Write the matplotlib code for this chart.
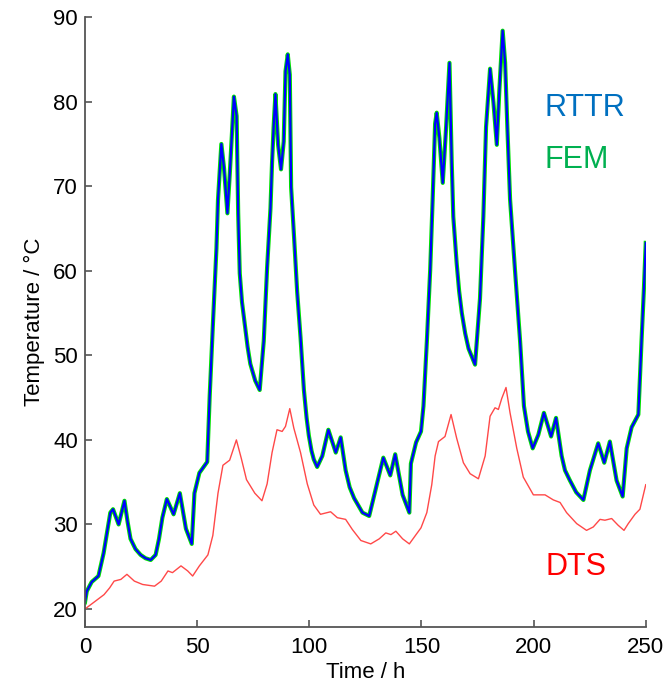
import matplotlib
matplotlib.use("Agg")
import matplotlib.pyplot as plt

plt.rcParams['font.family'] = ['Liberation Sans', 'DejaVu Sans']

# RTTR model, time in h, temperature in degC
rttr_time = [0, 0.8, 3, 6, 8.3, 11.3, 12.5, 15, 17.6, 19, 20.3, 22.5, 24.8, 27, 29.3, 31.5,
             33, 34.5, 36.5, 39.5, 42.3, 45, 47.6, 48.8, 51, 54.5, 55.6, 57, 58.6, 59.3,
             60.8, 62, 63.5, 64.6, 66.4, 67.6, 68.3, 69, 70, 71.3, 72.5, 73.7, 75.9, 77.9,
             79.7, 81.2, 82.7, 83.4, 84.1, 84.9, 86.1, 87.4, 88.6, 89.4, 90.4, 91.3, 91.9,
             93.1, 94.6, 96.1, 97.6, 98.8, 99.8, 101, 102, 103.5, 105.8, 108.5, 111.8, 114,
             116.2, 118, 120, 123.7, 126.7, 129.7, 133, 136.1, 138.3, 141.6, 144.6, 145.3,
             147.6, 149.8, 150.9, 152.4, 153.9, 155, 156.1, 156.8, 158, 159.5, 161, 162.5,
             163.5, 164.2, 165.7, 166.8, 168, 169.5, 171, 173.9, 176.1, 177.6, 178.8, 180.6,
             182.1, 183.6, 184.7, 186.2, 187.3, 188.3, 189.5, 191.7, 194, 195.7, 197.5,
             199.6, 202.1, 204.6, 207.8, 210, 212.5, 214, 216.2, 219, 222.2, 225.1, 228.8,
             231.5, 234, 237, 239.7, 241.5, 243.7, 246.7, 248.1, 249.2, 250]
rttr_temp = [20.8, 22.1, 23.2, 23.9, 26.6, 31.4, 31.8, 30.0, 32.8, 30.3, 28.3, 27.1, 26.4,
             26.0, 25.8, 26.4, 28.3, 30.8, 33.0, 31.2, 33.7, 29.5, 27.7, 33.7, 36.1, 37.4,
             45.2, 53.5, 62.6, 68.4, 75.0, 72.1, 66.8, 71.7, 80.6, 78.3, 66.8, 59.7, 56.3,
             53.5, 51.0, 49.0, 47.0, 45.9, 51.7, 60.4, 67.4, 72.8, 77.0, 80.9, 74.9, 72.0,
             75.3, 83.6, 85.6, 83.2, 69.9, 64.5, 57.5, 52.1, 45.9, 42.6, 40.5, 38.7, 37.7,
             36.8, 38.1, 41.2, 38.5, 40.3, 36.4, 34.4, 33.1, 31.4, 31.0, 34.3, 37.9, 35.8,
             38.3, 33.5, 31.4, 37.2, 39.7, 41.0, 44.0, 51.6, 60.1, 68.5, 77.4, 78.7, 75.7,
             70.4, 77.0, 84.6, 72.8, 66.4, 60.9, 57.6, 55.0, 52.6, 50.8, 48.9, 56.7, 66.4,
             77.0, 83.9, 79.9, 74.9, 81.2, 88.4, 84.6, 77.0, 68.5, 60.1, 51.6, 44.0, 41.0,
             39.0, 40.6, 43.2, 40.4, 42.6, 38.1, 36.4, 35.2, 33.8, 32.9, 36.4, 39.6, 37.3,
             39.8, 35.2, 33.3, 39.0, 41.5, 43.0, 51.6, 58.0, 63.3]

# FEM result lies on top of the RTTR curve in the picture
fem_time = rttr_time
fem_temp = rttr_temp

# DTS measurement
dts_time = [0, 4, 8.5, 11, 13, 16, 18.7, 22, 25.7, 31, 34, 37, 39, 42.8, 45.8, 48, 51,
            54.8, 57, 59.3, 61.5, 64.5, 67.5, 69.7, 72, 75.7, 78.9, 81.2, 83.4, 85.6,
            87.9, 89.4, 91.3, 93.1, 96.1, 99.1, 102, 105, 109.5, 112.5, 116.2, 119.2,
            123, 127.4, 131.2, 134.1, 136.4, 138.6, 141.6, 144.6, 147.6, 149.8, 152.4,
            154.6, 156.1, 157.6, 160.5, 163.2, 165.7, 168.7, 171.7, 175.4, 178.4, 180.6,
            182.8, 184.3, 185.8, 187.7, 189.5, 192.5, 195.4, 199.9, 205.1, 208.8, 211.8,
            214.7, 219.2, 223.6, 226.6, 229.6, 231.8, 234.8, 237.7, 240.3, 242.2, 245.2,
            247.4, 250]
dts_temp = [20.0, 20.8, 21.7, 22.5, 23.3, 23.5, 24.1, 23.3, 22.9, 22.7, 23.3, 24.5, 24.3,
            25.1, 24.5, 23.9, 25.1, 26.4, 28.7, 33.7, 37.0, 37.6, 40.0, 37.8, 35.3, 33.7,
            32.8, 34.8, 38.5, 41.2, 41.0, 41.6, 43.7, 41.4, 38.5, 34.8, 32.3, 31.2, 31.5,
            30.8, 30.6, 29.4, 28.1, 27.7, 28.3, 29.0, 28.8, 29.2, 28.3, 27.7, 28.8, 29.6,
            31.4, 34.7, 38.1, 39.8, 40.4, 43.0, 40.2, 37.3, 36.0, 35.4, 38.1, 42.8, 43.8,
            43.6, 44.9, 46.2, 43.2, 39.0, 35.6, 33.5, 33.5, 32.9, 32.6, 31.4, 30.1, 29.3,
            29.7, 30.6, 30.5, 30.7, 29.9, 29.3, 30.1, 31.2, 31.8, 34.7]

fig = plt.figure(figsize=(6.66, 6.86), dpi=100)
ax = fig.add_axes([0.1276, 0.086, 0.842, 0.889])

ax.plot(fem_time, fem_temp, color='#00e000', lw=3.0)
ax.plot(rttr_time, rttr_temp, color='#0000ff', lw=1.6)
ax.plot(dts_time, dts_temp, color='#ff4848', lw=1.0)

ax.text(205, 79.2, 'RTTR', color='#0070c0', fontsize=22, va='center')
ax.text(205, 73.1, 'FEM', color='#00b050', fontsize=22, va='center')
ax.text(205.5, 25.0, 'DTS', color='#ff0000', fontsize=22, va='center')

ax.set_xlim(0, 250)
ax.set_ylim(17.87, 90)
ax.set_xticks([0, 50, 100, 150, 200, 250])
ax.set_yticks([20, 30, 40, 50, 60, 70, 80, 90])
ax.set_xlabel('Time / h', fontsize=16, labelpad=3)
ax.set_ylabel('Temperature / °C', fontsize=16, labelpad=6)

for s in ['top', 'right']:
    ax.spines[s].set_visible(False)
for s in ['left', 'bottom']:
    ax.spines[s].set_color('#555555')
    ax.spines[s].set_linewidth(1.3)
ax.tick_params(direction='in', length=5, width=1.2, color='#555555', labelsize=16)
ax.tick_params(axis='x', pad=7)
ax.tick_params(axis='y', pad=5)

fig.savefig('out.png', dpi=100)
